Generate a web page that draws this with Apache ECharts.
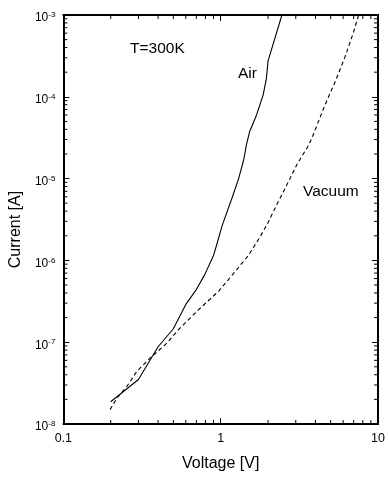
<!DOCTYPE html>
<html>
<head>
<meta charset="utf-8">
<script src="https://cdn.jsdelivr.net/npm/echarts@6/dist/echarts.min.js"></script>
<style>
html,body{margin:0;padding:0;background:#fff;}
#chart{width:388px;height:477px;}
</style>
</head>
<body>
<div id="chart"></div>
<script>
// ---- data ----
var airVoltage = [0.20, 0.30, 0.40, 0.50, 0.60, 0.70, 0.79, 0.90, 0.94, 1.02, 1.18, 1.30, 1.40, 1.46, 1.53, 1.69, 1.86, 1.95, 2.00, 2.45];
var airCurrent = [1.87e-8, 3.5e-8, 8.8e-8, 1.46e-7, 2.9e-7, 4.4e-7, 6.65e-7, 1.15e-6, 1.52e-6, 2.64e-6, 5.8e-6, 1.0e-5, 1.7e-5, 2.64e-5, 3.8e-5, 6.0e-5, 1.05e-4, 1.66e-4, 2.75e-4, 1e-3];
var vacVoltage = [0.198, 0.22, 0.254, 0.293, 0.355, 0.451, 0.546, 0.729, 0.97, 1.235, 1.50, 1.77, 2.00, 2.30, 2.60, 3.07, 3.55, 3.81, 4.51, 5.33, 6.15, 6.95, 7.53];
var vacCurrent = [1.5e-8, 2.1e-8, 2.9e-8, 4.4e-8, 6.36e-8, 9.6e-8, 1.46e-7, 2.53e-7, 4.2e-7, 7.3e-7, 1.15e-6, 1.91e-6, 2.9e-6, 5.03e-6, 7.97e-6, 1.52e-5, 2.4e-5, 3.17e-5, 7.26e-5, 1.52e-4, 3.03e-4, 6.0e-4, 1e-3];

var xTickLabels = ['0.1', '1', '10'];
var yTickExponents = ['-8', '-7', '-6', '-5', '-4', '-3'];

var xMin = 0.1, xMax = 10, yMin = 1e-8, yMax = 1e-3;

// minor tick positions (2..9 x each decade) - axis decoration
var xMinor = [], yMinor = [];
[0.1, 1].forEach(function (d) { for (var k = 2; k <= 9; k++) xMinor.push(+(d * k).toPrecision(3)); });
[1e-8, 1e-7, 1e-6, 1e-5, 1e-4].forEach(function (d) { for (var k = 2; k <= 9; k++) yMinor.push(+(d * k).toPrecision(3)); });

function zip(a, b) { return a.map(function (v, i) { return [v, b[i]]; }); }

var FONT = 'Liberation Sans, Arial, sans-serif';
var chart = echarts.init(document.getElementById('chart'), null, { renderer: 'canvas' });

var axisLineStyle = { lineStyle: { color: '#000', width: 2 } };
var majorTick = { show: true, inside: true, length: 6, lineStyle: { color: '#000', width: 1 } };

var option = {
  backgroundColor: '#fff',
  animation: false,
  grid: { left: 62, right: 7, top: 15, bottom: 45 },
  xAxis: [{
    type: 'log', logBase: 10, min: xMin, max: xMax, splitNumber: 2,
    position: 'bottom',
    axisLine: axisLineStyle, axisTick: majorTick, splitLine: { show: false },
    axisLabel: {
      color: '#000', fontFamily: FONT, fontSize: 12.5, margin: 8,
      formatter: function (v) { var i = Math.round(Math.log10(v) + 1); return xTickLabels[i]; }
    },
    name: 'Voltage [V]', nameLocation: 'middle', nameGap: 32,
    nameTextStyle: { color: '#000', fontFamily: FONT, fontSize: 16 }
  }, {
    type: 'log', logBase: 10, min: xMin, max: xMax, splitNumber: 2,
    position: 'top',
    axisLine: axisLineStyle, axisTick: majorTick, splitLine: { show: false },
    axisLabel: { show: false }
  }],
  yAxis: [{
    type: 'log', logBase: 10, min: yMin, max: yMax, splitNumber: 5,
    position: 'left',
    axisLine: axisLineStyle, axisTick: majorTick, splitLine: { show: false },
    axisLabel: {
      color: '#000', fontFamily: FONT, margin: 8,
      formatter: function (v) {
        var i = Math.round(Math.log10(v) + 8);
        return '{b|10}{s|' + yTickExponents[i] + '}';
      },
      rich: {
        b: { fontSize: 12, fontFamily: FONT, color: '#000', lineHeight: 18, verticalAlign: 'bottom' },
        s: { fontSize: 8, fontFamily: FONT, color: '#000', lineHeight: 8, verticalAlign: 'top', padding: [5, 0, 0, 0] }
      }
    },
    name: 'Current [A]', nameLocation: 'middle', nameGap: 28, nameRotate: 90,
    nameTextStyle: { color: '#000', fontFamily: FONT, fontSize: 16, padding: [0, 20, 0, 0] }
  }, {
    type: 'log', logBase: 10, min: yMin, max: yMax, splitNumber: 5,
    position: 'right',
    axisLine: axisLineStyle, axisTick: majorTick, splitLine: { show: false },
    axisLabel: { show: false }
  }],
  series: [{
    name: 'Air', type: 'line', xAxisIndex: 0, yAxisIndex: 0,
    data: zip(airVoltage, airCurrent), showSymbol: false, symbol: 'none',
    lineStyle: { color: '#000', width: 1.1 }, z: 3
  }, {
    name: 'Vacuum', type: 'line', xAxisIndex: 0, yAxisIndex: 0,
    data: zip(vacVoltage, vacCurrent), showSymbol: false, symbol: 'none',
    lineStyle: { color: '#000', width: 1.1, type: [4, 3] }, z: 3
  }, {
    // minor ticks on bottom & top axes
    type: 'custom', xAxisIndex: 0, yAxisIndex: 0, silent: true, clip: false, z: 5,
    data: xMinor.map(function (v) { return [v, yMin]; }),
    renderItem: function (params, api) {
      var b = api.coord([api.value(0), yMin]);
      var t = api.coord([api.value(0), yMax]);
      return { type: 'group', children: [
        { type: 'line', shape: { x1: b[0], y1: b[1], x2: b[0], y2: b[1] - 4 }, style: { stroke: '#000', lineWidth: 1 } },
        { type: 'line', shape: { x1: t[0], y1: t[1], x2: t[0], y2: t[1] + 4 }, style: { stroke: '#000', lineWidth: 1 } }
      ] };
    }
  }, {
    // minor ticks on left & right axes
    type: 'custom', xAxisIndex: 0, yAxisIndex: 0, silent: true, clip: false, z: 5,
    data: yMinor.map(function (v) { return [xMin, v]; }),
    renderItem: function (params, api) {
      var l = api.coord([xMin, api.value(1)]);
      var r = api.coord([xMax, api.value(1)]);
      return { type: 'group', children: [
        { type: 'line', shape: { x1: l[0], y1: l[1], x2: l[0] + 4, y2: l[1] }, style: { stroke: '#000', lineWidth: 1 } },
        { type: 'line', shape: { x1: r[0], y1: r[1], x2: r[0] - 4, y2: r[1] }, style: { stroke: '#000', lineWidth: 1 } }
      ] };
    }
  }],
  graphic: [
    { type: 'text', left: 130, top: 41, style: { text: 'T=300K', font: '15.5px ' + FONT, fill: '#000' } },
    { type: 'text', left: 238, top: 66, style: { text: 'Air', font: '15.5px ' + FONT, fill: '#000' } },
    { type: 'text', left: 303, top: 184, style: { text: 'Vacuum', font: '15.5px ' + FONT, fill: '#000' } }
  ]
};
chart.setOption(option);
</script>
</body>
</html>
